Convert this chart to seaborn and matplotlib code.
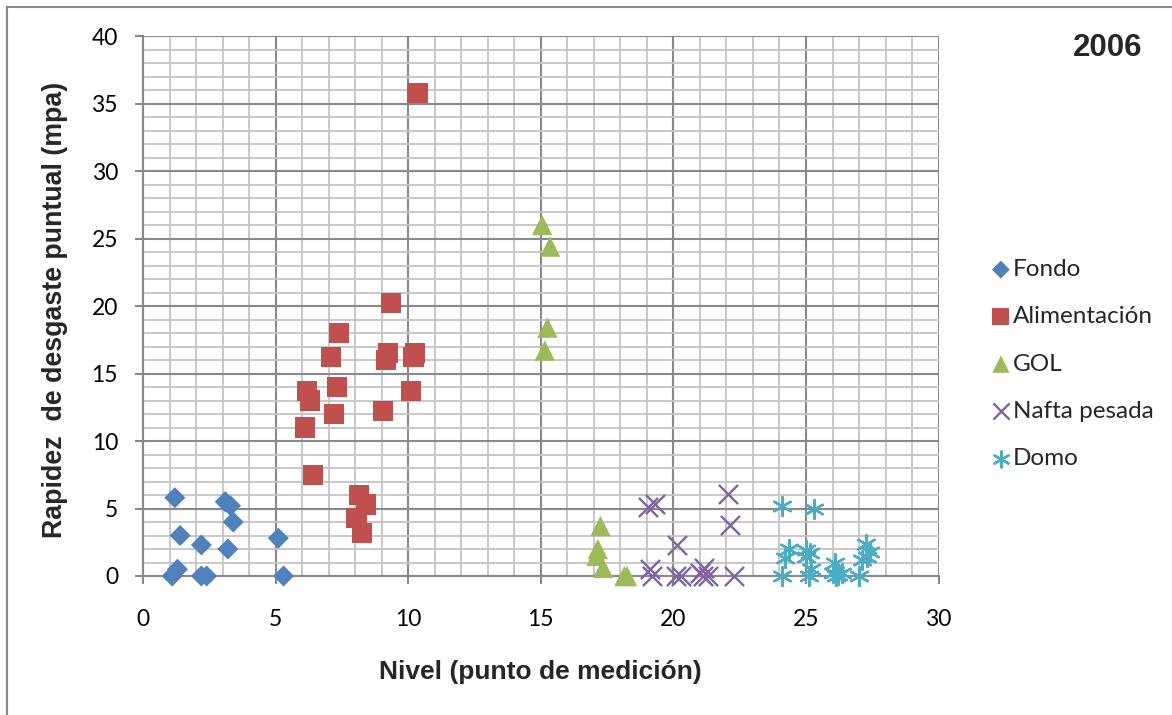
import numpy as np
import pandas as pd
import matplotlib
matplotlib.use("Agg")
import matplotlib.pyplot as plt
from matplotlib.patches import Rectangle
from matplotlib.ticker import MultipleLocator
import seaborn as sns

# ---- data ----
fondo_x = [1.2, 1.4, 1.3, 1.1, 2.2, 2.2, 2.4, 3.1, 3.3, 3.4, 3.2, 5.1, 5.3]
fondo_y = [5.8, 3.0, 0.5, 0.0, 2.3, 0.0, 0.0, 5.5, 5.2, 4.0, 2.0, 2.8, 0.0]

alim_x = [10.35, 9.35, 7.4, 7.1, 9.25, 9.15, 10.25, 10.2, 6.2, 6.3, 7.3, 7.2, 6.1,
          10.1, 9.05, 6.4, 8.15, 8.4, 8.05, 8.25]
alim_y = [35.8, 20.25, 18.0, 16.2, 16.5, 16.0, 16.5, 16.25, 13.7, 13.0, 14.0, 12.0, 11.0,
          13.7, 12.2, 7.5, 6.0, 5.3, 4.3, 3.2]

gol_x = [15.05, 15.35, 15.25, 15.15, 17.25, 17.15, 17.1, 17.35, 18.15, 18.25]
gol_y = [26.0, 24.4, 18.4, 16.7, 3.7, 2.0, 1.5, 0.6, 0.0, 0.0]

nafta_x = [19.05, 19.3, 22.05, 22.15, 20.15, 19.1, 19.2, 20.1, 20.3, 21.15, 21.0, 21.1, 21.3, 22.3]
nafta_y = [5.1, 5.3, 6.1, 3.8, 2.3, 0.5, 0.0, 0.0, 0.0, 0.6, 0.2, 0.0, 0.0, 0.0]

domo_x = [24.1, 25.3, 24.35, 24.2, 24.1, 25.0, 25.15, 25.0, 25.2, 25.1, 26.1, 26.0,
          26.2, 26.35, 26.15, 27.0, 27.25, 27.3, 27.1, 27.4]
domo_y = [5.2, 5.0, 2.0, 1.3, 0.0, 1.9, 1.7, 1.4, 0.5, 0.0, 1.0, 0.2,
          0.1, 0.2, 0.0, 0.0, 2.4, 1.4, 1.2, 1.8]

series_names = ["Fondo", "Alimentación", "GOL", "Nafta pesada", "Domo"]
x_ticks = [0, 5, 10, 15, 20, 25, 30]
y_ticks = [0, 5, 10, 15, 20, 25, 30, 35, 40]

x_label = "Nivel (punto de medición)"
y_label = "Rapidez  de desgaste puntual (mpa)"
year_label = "2006"

frames = []
for name, xs, ys in zip(series_names,
                        [fondo_x, alim_x, gol_x, nafta_x, domo_x],
                        [fondo_y, alim_y, gol_y, nafta_y, domo_y]):
    frames.append(pd.DataFrame({"x": xs, "y": ys, "serie": name}))
df = pd.concat(frames, ignore_index=True)

colors = {"Fondo": "#4F81BD", "Alimentación": "#C0504D", "GOL": "#9BBB59",
          "Nafta pesada": "#8064A2", "Domo": "#4BACC6"}
markers = {"Fondo": "D", "Alimentación": "s", "GOL": "^",
           "Nafta pesada": "x", "Domo": (6, 2, 0)}
sizes = {"Fondo": 115, "Alimentación": 210, "GOL": 215,
         "Nafta pesada": 190, "Domo": 185}

sns.set_theme(style="white")
plt.rcParams["font.family"] = ["Lato", "DejaVu Sans"]

fig = plt.figure(figsize=(11.72, 7.15), dpi=100)
W, H = 1172, 715
ax = fig.add_axes([143 / W, 1 - 576 / H, (938.6 - 143) / W, (576 - 36) / H])

for name in series_names:
    sub = df[df["serie"] == name]
    filled = name not in ("Nafta pesada", "Domo")
    kw = dict(edgecolor="none") if filled else dict(linewidth=1.7)
    sns.scatterplot(data=sub, x="x", y="y", ax=ax, marker=markers[name],
                    color=colors[name], s=sizes[name], label=name, zorder=3,
                    **kw)
for coll in ax.collections:
    coll.set_clip_on(False)

ax.set_xlim(0, 30)
ax.set_ylim(0, 40)
ax.set_xticks(x_ticks)
ax.set_yticks(y_ticks)
ax.xaxis.set_minor_locator(MultipleLocator(1))
ax.yaxis.set_minor_locator(MultipleLocator(1))
ax.grid(which="minor", color="#c4c4c4", linewidth=1.3, zorder=0)
ax.grid(which="major", color="#898989", linewidth=1.5, zorder=1)
ax.set_axisbelow(True)
for side in ("top", "right"):
    ax.spines[side].set_visible(False)
for side in ("left", "bottom"):
    ax.spines[side].set_color("#898989")
    ax.spines[side].set_linewidth(1.5)
ax.tick_params(axis="both", which="major", direction="out", length=6, width=1.5,
               color="#898989", labelsize=16.5, labelcolor="black",
               bottom=True, left=True)
ax.tick_params(axis="y", pad=12)
ax.tick_params(axis="x", pad=18)
ax.tick_params(which="minor", length=0)

ax.set_xlabel("")
ax.set_ylabel("")
fig.text(540 / W, 1 - 672 / H, x_label, ha="center", va="center",
         family=["Liberation Sans", "DejaVu Sans"], fontweight="bold", fontsize=19)
fig.text(55 / W, 1 - 310 / H, y_label, ha="center", va="center", rotation=90,
         family=["Liberation Sans", "DejaVu Sans"], fontweight="bold", fontsize=19.3)
fig.text(1142 / W, 1 - 48 / H, year_label, ha="right", va="center",
         family=["Liberation Sans", "DejaVu Sans"], fontweight="bold", fontsize=22.5)

handles, labels = ax.get_legend_handles_labels()
if ax.legend_:
    ax.legend_.remove()
leg = fig.legend(handles, labels, loc="center left",
                 bbox_to_anchor=(979 / W, 1 - 364 / H), frameon=False,
                 fontsize=17.5, handletextpad=0.0, handlelength=1.0,
                 labelspacing=1.08, borderaxespad=0, markerscale=0.85)

fig.patches.append(Rectangle((7 / W, -0.1), 1.2, (1 - 7 / H) + 0.1,
                             transform=fig.transFigure, fill=False,
                             edgecolor="#898989", linewidth=1.5, clip_on=False))

fig.savefig("out.png", dpi=100, facecolor="white")
